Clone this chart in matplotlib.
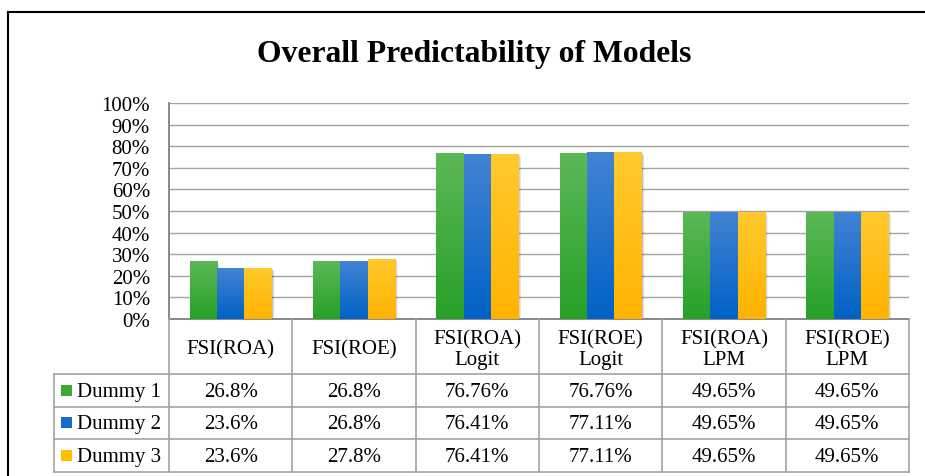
import matplotlib
matplotlib.use("Agg")
import matplotlib.pyplot as plt
import numpy as np
from matplotlib.colors import LinearSegmentedColormap
from matplotlib.lines import Line2D
from matplotlib.patches import Rectangle

# ---------------- data ----------------
title = "Overall Predictability of Models"
categories = ["FSI(ROA)", "FSI(ROE)", "FSI(ROA)\nLogit", "FSI(ROE)\nLogit",
              "FSI(ROA)\nLPM", "FSI(ROE)\nLPM"]
series_names = ["Dummy 1", "Dummy 2", "Dummy 3"]
dummy1 = [26.8, 26.8, 76.76, 76.76, 49.65, 49.65]
dummy2 = [23.6, 26.8, 76.41, 77.11, 49.65, 49.65]
dummy3 = [23.6, 27.8, 76.41, 77.11, 49.65, 49.65]
y_ticks = [0, 10, 20, 30, 40, 50, 60, 70, 80, 90, 100]

series = [dummy1, dummy2, dummy3]
top_colors = ["#5cb857", "#4383d3", "#ffca2e"]
bot_colors = ["#27a027", "#0062c6", "#ffb300"]
legend_colors = ["#3aaa35", "#1a6acb", "#ffc000"]

FONT = "Liberation Serif"
FS = 15
W, H = 925, 477
fig = plt.figure(figsize=(W / 100, H / 100), dpi=100)


def fx(px):
    return px / W


def fy(py):
    return 1 - py / H


PL, PR, PT, PB = 169, 909, 104, 320
ax = fig.add_axes([fx(PL), fy(PB), fx(PR) - fx(PL), fy(PT) - fy(PB)])

n = len(categories)
ns = len(series)
bw = 1 / (ns + 1.5)
x = np.arange(n)

for i, vals in enumerate(series):
    cmap = LinearSegmentedColormap.from_list("g%d" % i, [top_colors[i], bot_colors[i]])
    grad = np.linspace(0, 1, 128).reshape(-1, 1)
    for j, v in enumerate(vals):
        x0 = x[j] + (i - (ns - 1) / 2) * bw - bw / 2
        # soft shadow
        for k, a in zip([1, 2, 3, 4], [0.10, 0.08, 0.06, 0.04]):
            sh = Rectangle((x0 + k * 0.006, -5), bw, v + 5 - k * 0.35,
                           facecolor="black", alpha=a, edgecolor="none", zorder=2)
            ax.add_patch(sh)
        bar = Rectangle((x0, 0), bw, v, facecolor=legend_colors[i], edgecolor="none", zorder=3)
        ax.add_patch(bar)
        im = ax.imshow(grad, cmap=cmap, extent=[x0, x0 + bw, 0, v], aspect="auto",
                       origin="upper", zorder=3.5, interpolation="bilinear")
        im.set_clip_path(bar)

ax.set_xlim(-0.5, n - 0.5)
ax.set_ylim(0, 100)
ax.set_yticks(y_ticks)
ax.set_yticklabels([f"{t}%" for t in y_ticks], fontsize=FS, family=FONT)
ax.tick_params(axis="y", length=0, pad=13.7)
ax.set_xticks([])
ax.grid(axis="y", color="#a3a3a3", lw=1.0, zorder=0)
ax.set_axisbelow(True)
for s in ["top", "right"]:
    ax.spines[s].set_visible(False)
for s in ["left", "bottom"]:
    ax.spines[s].set_color("#898989")
    ax.spines[s].set_linewidth(1.4)
ax.patch.set_alpha(0)

# ---------------- title ----------------
fig.text(fx(474), fy(62.3), title, ha="center", va="baseline", fontsize=22.8,
         fontweight="bold", family=FONT)

# ---------------- outer frame ----------------
fig.add_artist(Line2D([fx(8), 1], [fy(13), fy(13)], color="black", lw=1.5))
fig.add_artist(Line2D([fx(8), fx(8)], [fy(13), 0], color="black", lw=1.5))

# ---------------- data table ----------------
lc = "#a3a3a3"
colw = (PR - PL) / n
xs = [PL + i * colw for i in range(n + 1)]
row_y = [PB, 375, 407.5, 440, 473]
LEFT = 54
for xv in xs:
    fig.add_artist(Line2D([fx(xv), fx(xv)], [fy(PB), fy(row_y[-1])], color=lc, lw=1.2))
fig.add_artist(Line2D([fx(LEFT), fx(LEFT)], [fy(row_y[1]), fy(row_y[-1])], color=lc, lw=1.2))
for yv in row_y[1:]:
    fig.add_artist(Line2D([fx(LEFT), fx(PR)], [fy(yv), fy(yv)], color=lc, lw=1.2))

for j, c in enumerate(categories):
    cx = PL + (j + 0.5) * colw
    lines = c.split("\n")
    baselines = [354.3] if len(lines) == 1 else [344.5, 365.0]
    for ln, b in zip(lines, baselines):
        fig.text(fx(cx), fy(b), ln, ha="center", va="baseline", fontsize=FS, family=FONT)

for i, (name, vals) in enumerate(zip(series_names, series)):
    cy = (row_y[i + 1] + row_y[i + 2]) / 2
    base = cy + 5.5
    fig.add_artist(Rectangle((fx(61), fy(cy + 5.5)), fx(11), 11 / H,
                             facecolor=legend_colors[i], edgecolor="none",
                             transform=fig.transFigure))
    fig.text(fx(77), fy(base), name, ha="left", va="baseline", fontsize=FS, family=FONT)
    for j, v in enumerate(vals):
        cx = PL + (j + 0.5) * colw
        fig.text(fx(cx), fy(base), f"{v}%", ha="center", va="baseline", fontsize=FS, family=FONT)

fig.savefig("out.png", dpi=100)
